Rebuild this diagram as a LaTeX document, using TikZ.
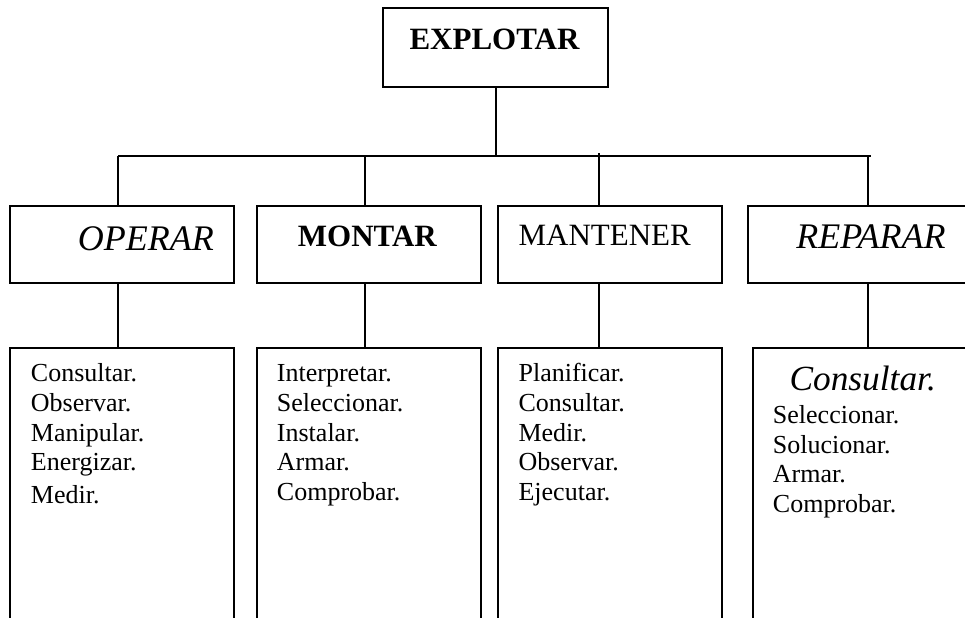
\documentclass[tikz,border=0pt]{standalone}
\usepackage{fontspec}
\setmainfont{Liberation Serif}
\begin{document}
\begin{tikzpicture}[x=0.75pt,y=-0.75pt,
  frame/.style 2 args={draw, rectangle, line width=1.4pt, inner sep=0pt,
    minimum width=#1*0.75pt, minimum height=#2*0.75pt},
  link/.style={line width=1.4pt},
  lbl/.style={anchor=base west, inner sep=0pt},
  headbf/.style={lbl, font=\fontsize{23.25}{26}\selectfont\bfseries},
  headrm/.style={lbl, font=\fontsize{23.25}{26}\selectfont},
  headit/.style={lbl, font=\fontsize{27}{30}\selectfont\itshape},
  item/.style={lbl, font=\fontsize{19.5}{22}\selectfont},
  itemit/.style={lbl, font=\fontsize{26.5}{29}\selectfont\itshape}]
\useasboundingbox (0,0) rectangle (965,618);
\clip (0,0) rectangle (965,618);

% boxes
\node[frame={224.4}{78.4}] (top) at (495.5,47.5) {};
\node[frame={224}{77.6}]   (op)  at (122,244.5) {};
\node[frame={224.3}{77.6}] (mo)  at (368.85,244.5) {};
\node[frame={224.6}{77.6}] (ma)  at (610,244.5) {};
\node[frame={252.3}{77.6}] (re)  at (873.85,244.5) {};
\node[frame={224.3}{301.7}] (opl) at (122.15,499.15) {};
\node[frame={224.3}{301.7}] (mol) at (368.85,499.15) {};
\node[frame={224}{301.7}]   (mal) at (610.3,499.15) {};
\node[frame={247.3}{301.7}] (rel) at (876.35,499.15) {};

% junctions on the bus
\coordinate (j0) at (496,156);
\coordinate (j1) at (118,156);
\coordinate (j2) at (365,156);
\coordinate (j3) at (599.3,156);
\coordinate (j4) at (868.3,156);
\coordinate (busR) at (870.7,156);
\coordinate (t3) at (599.3,153);

% connectors
\draw[link] (top.south -| j0) -- (j0);
\draw[link] (j1) -- (busR);
\draw[link] (j1) -- (op.north -| j1);
\draw[link] (j2) -- (mo.north -| j2);
\draw[link] (t3) -- (ma.north -| t3);
\draw[link] (j4) -- (re.north -| j4);
\draw[link] (op.south -| j1) -- (opl.north -| j1);
\draw[link] (mo.south -| j2) -- (mol.north -| j2);
\draw[link] (ma.south -| j3) -- (mal.north -| j3);
\draw[link] (re.south -| j4) -- (rel.north -| j4);

% headings
\node[headbf] (tExp) at (409.3,49.3) {EXPLOTAR};
\node[headit] (tOp)  at (77.7,250) {OPERAR};
\node[headbf] (tMo)  at (297.7,246.7) {MONTAR};
\node[headrm] (tMa)  at (518.3,245) {MANTENER};
\node[headit] (tRe)  at (796,248.3) {REPARAR};

% task lists
\foreach \t/\y [count=\i] in {Consultar./381.7, Observar./411.7, Manipular./441, Energizar./470, Medir./503.3}
  \node[item] (op\i) at (30.7,\y) {\t};
\foreach \t/\y [count=\i] in {Interpretar./381.7, Seleccionar./411.7, Instalar./441, Armar./470, Comprobar./500}
  \node[item] (mo\i) at (276.7,\y) {\t};
\foreach \t/\y [count=\i] in {Planificar./381.7, Consultar./411.7, Medir./441, Observar./470, Ejecutar./500}
  \node[item] (ma\i) at (518.3,\y) {\t};
\node[itemit] (re1) at (789.3,390) {Consultar.};
\foreach \t/\y [count=\i from 2] in {Seleccionar./423.3, Solucionar./453.3, Armar./482.7, Comprobar./512.7}
  \node[item] (re\i) at (772.7,\y) {\t};
\end{tikzpicture}
\end{document}
